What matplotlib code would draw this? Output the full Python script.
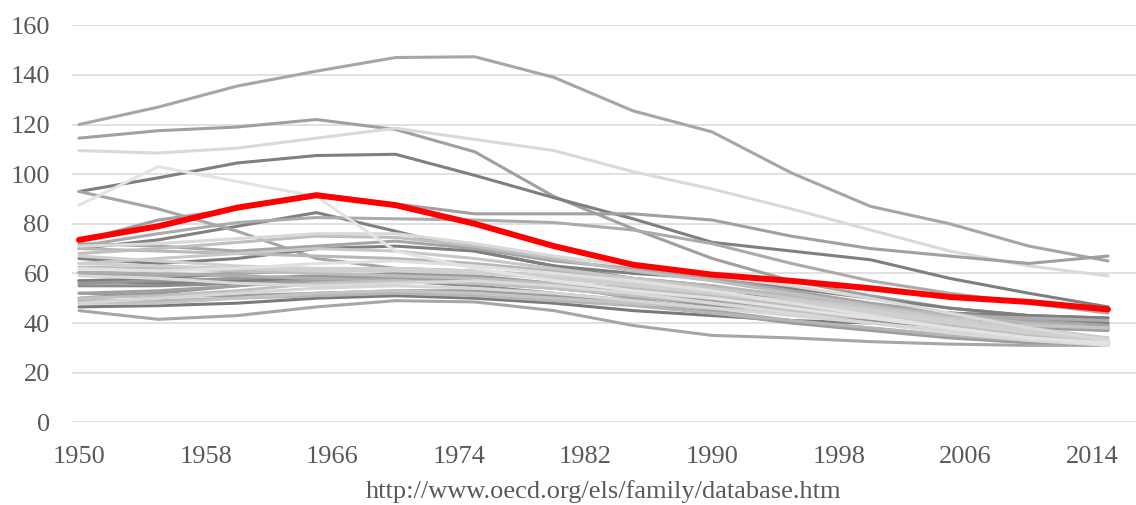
import matplotlib
matplotlib.use("Agg")
from matplotlib import pyplot as plt
from matplotlib.ticker import MultipleLocator

plt.rcParams["font.family"] = ["Liberation Serif", "DejaVu Serif"]

years = [1950, 1955, 1960, 1965, 1970, 1975, 1980, 1985, 1990, 1995, 2000, 2005, 2010, 2015]
tick_years = [1950, 1958, 1966, 1974, 1982, 1990, 1998, 2006, 2014]
source = "http://www.oecd.org/els/family/database.htm"

# highlighted country
red_series = [73.5, 79, 86.5, 91.5, 87.5, 80, 71, 63.5, 59.5, 57, 54, 50.5, 48.5, 45.5]

# other countries
top_line = [120, 127, 135.5, 141.5, 147, 147.3, 139, 125.5, 117, 100.5, 87, 80, 71, 65]
steep_114 = [114.5, 117.5, 119, 122, 118, 109, 91, 78, 66, 57, 51, 46, 43, 40]
light_110 = [109.5, 108.5, 110.5, 114.5, 118.5, 114, 109.5, 101, 94, 86, 77.5, 69, 63, 59]
dark_93 = [93, 98.5, 104.5, 107.5, 108, 99.5, 90.5, 82, 72.5, 69, 65.5, 58, 52, 46.5]
flat_84 = [73, 81.5, 86, 92, 88, 84, 84, 84, 81.5, 75, 70, 67, 64, 67]
dark_85 = [70, 73.5, 79, 84.5, 77, 69, 63, 58, 55, 50, 46, 44, 43, 42]
flat_82 = [71, 76, 80.5, 82.5, 82, 81.5, 80.5, 77.5, 72, 64, 57, 52, 48, 44]
falling_93 = [93, 86, 77, 66, 62, 59, 55, 50, 45, 41, 38, 35, 34, 33]
spike_line = [87.5, 103, 97, 91, 69, 62, 57, 53, 50, 46, 42, 38, 34, 32]

b01 = [71, 72, 74, 76, 76, 72, 67, 63, 59, 55, 50, 44, 38, 33]
b02 = [68, 70, 72.5, 75, 74.5, 71, 66, 61, 57, 52, 47, 42, 37, 32]
b03 = [72, 71, 69, 71, 73, 70, 65, 62, 58, 53, 48, 44, 41, 39]
b04 = [66, 64, 66, 70, 71, 69, 63, 60, 58, 54, 50, 46, 43, 42]
b05 = [64, 66, 68, 70, 69, 66, 62, 58, 54, 50, 46, 42, 38, 34]
b06 = [62, 61, 62, 64, 65, 63, 60, 57, 53, 48, 43, 38, 34, 31]
b07 = [67, 65, 63, 62, 62, 61, 59, 56, 52, 48, 44, 40, 36, 33]
b08 = [60, 59, 60, 61, 62, 61, 59, 55, 50, 46, 42, 38, 35, 33]
b09 = [57, 58, 60, 62, 61, 58, 55, 53, 50, 47, 44, 41, 39, 38]
b10 = [56, 57, 58, 59, 58, 57, 54, 51, 47, 44, 41, 39, 38, 38]
b11 = [62.5, 62, 61, 60, 59, 58, 56, 54, 51, 47, 43, 39, 35, 32]
b12 = [59, 58, 56, 55, 56, 57, 55, 52, 48, 44, 40, 36, 33, 31]
b13 = [52, 53, 55, 57, 58, 57, 55, 52, 49, 46, 43, 40, 38, 37]
b14 = [50, 51, 53, 56, 57, 56, 54, 51, 48, 45, 42, 38, 35, 32]
b15 = [48, 50, 52, 54, 55, 54, 52, 49, 46, 43, 40, 37, 34, 31]
b16 = [46.5, 47, 48, 50, 51, 50, 48, 45, 43, 41, 40, 39, 38.5, 38]
b17 = [49, 49, 50, 51, 52, 51, 49, 47, 44, 41, 38, 35, 33, 32]
b18 = [52, 51, 51, 52, 53, 53, 51, 48, 44, 40, 37, 34, 32, 31]
b19 = [45, 41.5, 43, 46.5, 49, 48.5, 45, 39, 35, 34, 32.5, 31.5, 31, 31]
b20 = [55, 55, 56, 57, 57, 55, 52, 49, 46, 44, 42, 41, 40, 39]
b21 = [64, 63, 62, 61, 61, 60, 58, 55, 52, 49, 45, 41, 37, 34]
b22 = [70, 69, 68, 67, 66, 64, 61, 58, 55, 51, 47, 43, 40, 38]
b23 = [57, 56, 57, 58, 59, 58, 56, 54, 52, 50, 47, 44, 42, 40]
b24 = [50, 52, 55, 58, 60, 59, 56, 53, 50, 47, 44, 41, 39, 37]
b25 = [48, 48, 50, 52, 53, 52, 50, 48, 46, 44, 42, 40, 39, 38]
b26 = [60.5, 60, 59, 58, 57, 56, 54, 52, 50, 47, 45, 43, 42, 41]

grey_lines = [
    (top_line, "#a6a6a6"),
    (steep_114, "#a0a0a0"),
    (light_110, "#d9d9d9"),
    (dark_93, "#7f7f7f"),
    (flat_84, "#a0a0a0"),
    (dark_85, "#808080"),
    (flat_82, "#ababab"),
    (falling_93, "#a6a6a6"),
    (b04, "#7f7f7f"),
    (b09, "#808080"),
    (b16, "#7a7a7a"),
    (b23, "#7f7f7f"),
    (b20, "#8c8c8c"),
    (b10, "#969696"),
    (b18, "#9c9c9c"),
    (b24, "#999999"),
    (b03, "#a6a6a6"),
    (b08, "#a6a6a6"),
    (b13, "#a0a0a0"),
    (b19, "#a6a6a6"),
    (b26, "#adadad"),
    (b17, "#b5b5b5"),
    (b22, "#b8b8b8"),
    (b02, "#bfbfbf"),
    (b11, "#bdbdbd"),
    (b14, "#c0c0c0"),
    (b25, "#c4c4c4"),
    (b05, "#c8c8c8"),
    (b21, "#cfcfcf"),
    (b07, "#d0d0d0"),
    (b01, "#d9d9d9"),
    (b12, "#d9d9d9"),
    (b15, "#d6d6d6"),
    (b06, "#e0e0e0"),
    (spike_line, "#e3e3e3"),
]

fig = plt.figure(figsize=(11.36, 5.05), dpi=100)
ax = fig.add_axes([0.0634, 0.1638, 0.9366, 0.7862])

for values, color in grey_lines:
    ax.plot(years, values, color=color, lw=2.2, solid_capstyle="round", solid_joinstyle="round")
ax.plot(years, red_series, color="#ff0000", lw=4.3, solid_capstyle="round",
        solid_joinstyle="round", zorder=5)

ax.set_ylim(0, 160)
ax.set_xlim(1949.56, 2016.77)
ax.yaxis.set_major_locator(MultipleLocator(20))
ax.set_xticks(tick_years)
ax.grid(axis="y", color="#d9d9d9", lw=1.1)
ax.set_axisbelow(True)
for s in ax.spines.values():
    s.set_visible(False)
ax.tick_params(length=0, labelsize=19, colors="#595959")
ax.tick_params(axis="y", pad=16)
ax.tick_params(axis="x", pad=17)
ax.set_xlabel(source, fontsize=19, color="#595959", labelpad=9)

fig.savefig("out.png", dpi=100)
